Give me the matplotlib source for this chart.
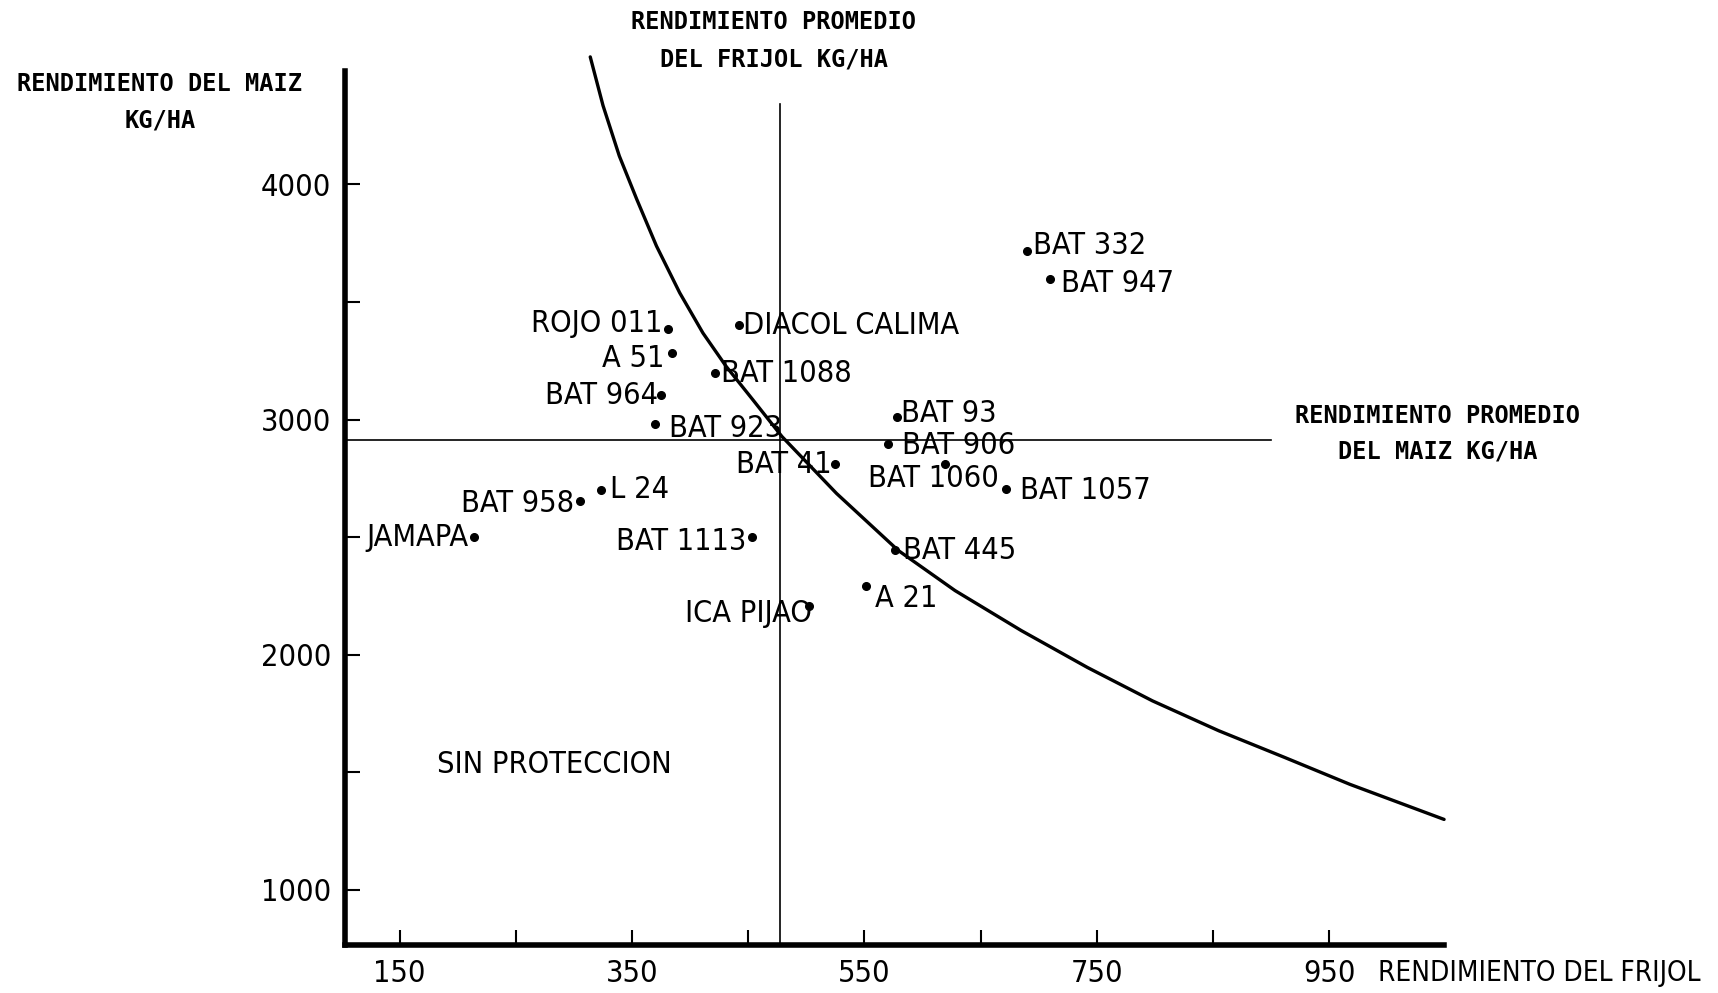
import matplotlib
matplotlib.use("Agg")
import matplotlib.pyplot as plt

# variedades de frijol: rendimiento frijol (x) y maiz (y), kg/ha
names = ["BAT 332", "BAT 947", "ROJO 011", "DIACOL CALIMA", "A 51", "BAT 1088",
         "BAT 964", "BAT 923", "BAT 93", "BAT 906", "BAT 41", "BAT 1060",
         "BAT 1057", "L 24", "BAT 958", "JAMAPA", "BAT 1113", "BAT 445",
         "A 21", "ICA PIJAO"]
frijol = [690, 710, 381, 442, 384, 421, 375, 370, 578, 570, 525, 619,
          672, 323, 305, 214, 453, 576, 551, 502]
maiz = [3715, 3598, 3383, 3402, 3285, 3196, 3103, 2981, 3009, 2897, 2813, 2813,
        2706, 2701, 2654, 2500, 2500, 2444, 2294, 2206]

# promedios
prom_frijol = 477
prom_maiz = 2914

# curva de igual ingreso
curva_x = [314, 325, 339, 354, 371, 391, 411, 431, 454, 479, 526, 579,
           628, 685, 742, 798, 855, 912, 968, 1049]
curva_y = [4542, 4335, 4121, 3937, 3738, 3539, 3368, 3226, 3084, 2928, 2686,
           2444, 2273, 2103, 1946, 1804, 1677, 1563, 1449, 1300]

xticks = [150, 250, 350, 450, 550, 650, 750, 850, 950]
xticklabels = ["150", "", "350", "", "550", "", "750", "", "950"]
yticks = [1000, 1500, 2000, 2500, 3000, 3500, 4000]
yticklabels = ["1000", "", "2000", "", "3000", "", "4000"]

narrow = ["DejaVu Sans Condensed", "DejaVu Sans"]
mono = ["DejaVu Sans Mono"]
txt = dict(family=narrow, stretch="condensed", fontsize=22)

W, H = 1568.0, 906.0  # coordinates read on the reference

fig = plt.figure(figsize=(17.18, 9.93), dpi=100)
ax = fig.add_axes([315 / W, 1 - 862 / H, (1318 - 315) / W, (862 - 65) / H])
ax.set_xlim(103, 1049)
ax.set_ylim(767, 4481)

for s in ["top", "right"]:
    ax.spines[s].set_visible(False)
for s in ["left", "bottom"]:
    ax.spines[s].set_linewidth(4)

ax.set_xticks(xticks)
ax.set_xticklabels(xticklabels)
ax.set_yticks(yticks)
ax.set_yticklabels(yticklabels)
ax.tick_params(direction="in", length=11, width=1.5, pad=10)
for lab in ax.get_xticklabels() + ax.get_yticklabels():
    lab.set(**txt)

# lineas de promedio
ax.plot([prom_frijol, prom_frijol], [767, 4341], color="black", lw=1.2)
ax.plot([103, 900], [prom_maiz, prom_maiz], color="black", lw=1.2)

ax.plot(curva_x, curva_y, color="black", lw=2.4, clip_on=False,
        solid_capstyle="round")

ax.plot(frijol, maiz, "o", color="black", ms=5.5, clip_on=False)

# posicion de cada etiqueta: (dx, dy) en puntos y alineacion
placement = {
    "BAT 332": (4, 4, "left"), "BAT 947": (8, -3, "left"),
    "ROJO 011": (-4, 4, "right"), "DIACOL CALIMA": (3, 0, "left"),
    "A 51": (-5, -4, "right"), "BAT 1088": (5, 0, "left"),
    "BAT 964": (-2, 0, "right"), "BAT 923": (10, -3, "left"),
    "BAT 93": (3, 3, "left"), "BAT 906": (10, -1, "left"),
    "BAT 41": (-3, -1, "right"), "BAT 1060": (-8, -11, "center"),
    "BAT 1057": (10, -1, "left"), "L 24": (7, 0, "left"),
    "BAT 958": (-4, -2, "right"), "JAMAPA": (-4, 0, "right"),
    "BAT 1113": (-4, -3, "right"), "BAT 445": (6, 0, "left"),
    "A 21": (7, -9, "left"), "ICA PIJAO": (2, -5, "right"),
}
for n, x, y in zip(names, frijol, maiz):
    dx, dy, ha = placement[n]
    ax.annotate(n, (x, y), xytext=(dx, dy), textcoords="offset points",
                ha=ha, va="center", annotation_clip=False, **txt)

ax.text(283, 1533, "SIN PROTECCION", ha="center", va="center", **txt)

# titulos
hdr = dict(ha="center", va="center", fontsize=17, weight="bold", family=mono)
fig.text(706 / W, 1 - 20 / H, "RENDIMIENTO PROMEDIO", **hdr)
fig.text(706 / W, 1 - 54 / H, "DEL FRIJOL KG/HA", **hdr)
fig.text(146 / W, 1 - 77 / H, "RENDIMIENTO DEL MAIZ", **hdr)
fig.text(146 / W, 1 - 110 / H, "KG/HA", **hdr)
fig.text(1312 / W, 1 - 380 / H, "RENDIMIENTO PROMEDIO", **hdr)
fig.text(1312 / W, 1 - 412 / H, "DEL MAIZ KG/HA", **hdr)
fig.text(1258 / W, 1 - 888 / H, "RENDIMIENTO DEL FRIJOL", ha="left",
         va="center", family=narrow, stretch="condensed", fontsize=20)

fig.savefig("out.png", dpi=100)
